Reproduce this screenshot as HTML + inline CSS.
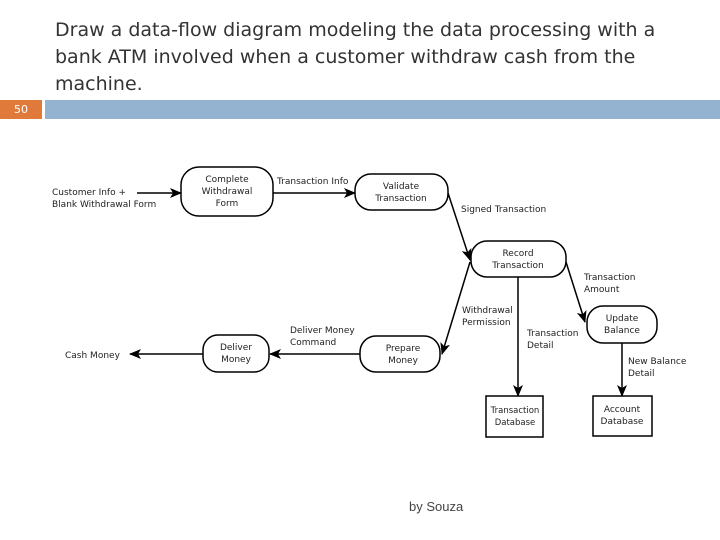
<html><head><style>
body{margin:0;width:720px;height:540px;background:#fff;position:relative;overflow:hidden;font-family:"DejaVu Sans","Liberation Sans",sans-serif}
.t{position:absolute;left:55px;top:17px;font-size:19px;line-height:27px;color:#333;letter-spacing:0px}
</style></head><body>
<div class="t">Draw a data-flow diagram modeling the data processing with a<br>bank ATM involved when a customer withdraw cash from the<br>machine.</div>
<div style="position:absolute;left:0;top:100px;width:42px;height:19px;background:#e07a3a;color:#fff;font-size:11px;text-align:center;line-height:19px">50</div>
<div style="position:absolute;left:45px;top:100px;width:675px;height:19px;background:#93b3d1"></div>
<svg width="720" height="540" style="position:absolute;left:0;top:0" font-family="DejaVu Sans, sans-serif" font-size="9" fill="#222">
<defs><marker id="a" markerWidth="12" markerHeight="10" refX="11" refY="5" orient="auto" markerUnits="userSpaceOnUse"><path d="M0,0 L12,5 L0,10 L3,5z" fill="#000"/></marker></defs>
<g fill="none" stroke="#000" stroke-width="1.5">
<rect x="181" y="167" width="92" height="49" rx="18"/>
<rect x="355" y="174" width="93" height="36" rx="16"/>
<rect x="471" y="241" width="95" height="36" rx="16"/>
<rect x="587" y="306" width="70" height="37" rx="16"/>
<rect x="360" y="336" width="80" height="36" rx="16"/>
<rect x="203" y="335" width="66" height="37" rx="15"/>
<rect x="486" y="396" width="57" height="41"/>
<rect x="593" y="396" width="59" height="40"/>
<g marker-end="url(#a)">
<line x1="137" y1="193" x2="181" y2="193"/>
<line x1="273" y1="193" x2="355" y2="193"/>
<line x1="448" y1="193" x2="470" y2="260"/>
<line x1="470" y1="262" x2="442" y2="354"/>
<line x1="566" y1="262" x2="585" y2="322"/>
<line x1="518" y1="277" x2="518" y2="396"/>
<line x1="622" y1="343" x2="622" y2="396"/>
<line x1="360" y1="354" x2="270" y2="354"/>
<line x1="203" y1="354" x2="130" y2="354"/>
</g></g>
<g text-anchor="middle">
<text x="227" y="182">Complete</text><text x="227" y="194">Withdrawal</text><text x="227" y="206">Form</text>
<text x="401" y="189">Validate</text><text x="401" y="201">Transaction</text>
<text x="518" y="256">Record</text><text x="518" y="268">Transaction</text>
<text x="622" y="321">Update</text><text x="622" y="333">Balance</text>
<text x="403" y="351">Prepare</text><text x="403" y="363">Money</text>
<text x="236" y="350">Deliver</text><text x="236" y="362">Money</text>
<text x="515" y="413" font-size="8.5">Transaction</text><text x="515" y="425" font-size="8.5">Database</text>
<text x="622" y="412">Account</text><text x="622" y="424">Database</text>
</g>
<text x="52" y="195">Customer Info +</text><text x="52" y="207">Blank Withdrawal Form</text>
<text x="277" y="184">Transaction Info</text>
<text x="461" y="212">Signed Transaction</text>
<text x="584" y="280">Transaction</text><text x="584" y="292">Amount</text>
<text x="462" y="313">Withdrawal</text><text x="462" y="325">Permission</text>
<text x="527" y="336">Transaction</text><text x="527" y="348">Detail</text>
<text x="628" y="364">New Balance</text><text x="628" y="376">Detail</text>
<text x="290" y="333">Deliver Money</text><text x="290" y="345">Command</text>
<text x="65" y="358">Cash Money</text>
</svg>
<div style="position:absolute;left:409px;top:499px;font-size:13px;color:#444;font-family:'Liberation Sans',sans-serif">by Souza</div>
</body></html>
